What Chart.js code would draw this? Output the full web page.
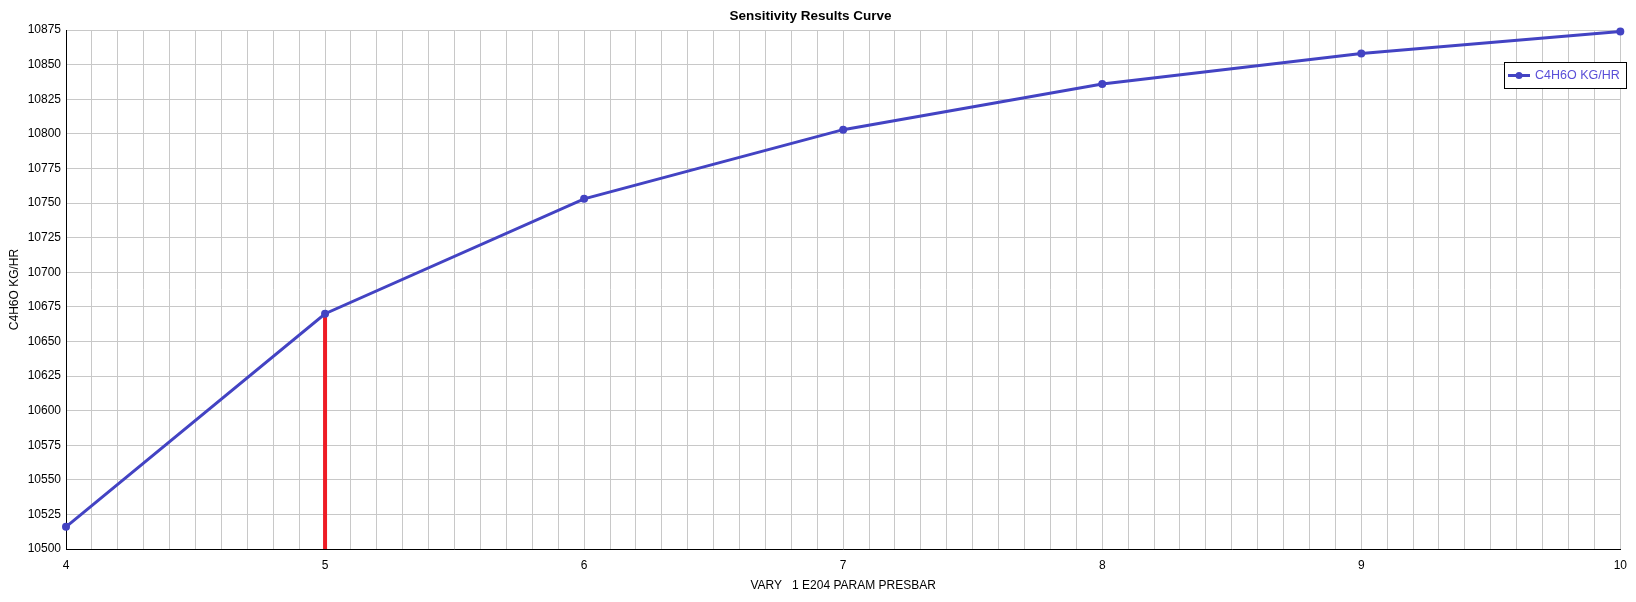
<!DOCTYPE html>
<html>
<head>
<meta charset="utf-8">
<script src="https://cdn.jsdelivr.net/npm/chart.js@4"></script>
<style>
  body { margin: 0; background: #fff; }
  #wrap { width: 1636px; height: 602px; }
</style>
</head>
<body>
<div id="wrap"><canvas id="curve" width="1636" height="602"></canvas></div>
<script>
const presbar = [4, 5, 6, 7, 8, 9, 10];
const c4h6o = [10516, 10670, 10753, 10803, 10836, 10858, 10874];
const markerX = [5, 5];
const markerY = [10500, 10670];
const seriesLabel = "C4H6O KG/HR";

const BLUE = "#4343c3";
const FONT = "'Liberation Sans', Arial, sans-serif";

// legend box drawn inside the plot, top right
const boxLegend = {
  id: "boxLegend",
  afterDraw(chart) {
    const c = chart.ctx;
    const x = 1504, y = 62, w = 122, h = 26;
    c.save();
    c.fillStyle = "#fff";
    c.fillRect(x, y, w, h);
    c.strokeStyle = "#000";
    c.lineWidth = 1;
    c.strokeRect(x + 0.5, y + 0.5, w, h);
    c.strokeStyle = BLUE;
    c.lineWidth = 3;
    c.beginPath();
    c.moveTo(x + 4, y + 13.5);
    c.lineTo(x + 26, y + 13.5);
    c.stroke();
    c.fillStyle = BLUE;
    c.beginPath();
    c.arc(x + 15, y + 13.5, 3.5, 0, Math.PI * 2);
    c.fill();
    c.font = "12.5px " + FONT;
    c.fillStyle = "#5a4fd8";
    c.textBaseline = "middle";
    c.fillText(seriesLabel, x + 31, y + 14);
    c.restore();
  },
};

new Chart(document.getElementById("curve").getContext("2d"), {
  type: "line",
  data: {
    datasets: [
      {
        label: seriesLabel,
        data: presbar.map((x, i) => ({ x, y: c4h6o[i] })),
        borderColor: BLUE,
        backgroundColor: BLUE,
        borderWidth: 3,
        pointRadius: 2.5,
        pointHoverRadius: 2.5,
        tension: 0,
        clip: false,
      },
      {
        label: "marker",
        data: markerX.map((x, i) => ({ x, y: markerY[i] })),
        borderColor: "#ee1c25",
        borderWidth: 4,
        pointRadius: 0,
        tension: 0,
        clip: false,
      },
    ],
  },
  options: {
    responsive: false,
    animation: false,
    layout: { padding: { right: 15 } },
    plugins: {
      legend: { display: false },
      tooltip: { enabled: false },
      title: {
        display: true,
        text: "Sensitivity Results Curve",
        color: "#000",
        font: { family: FONT, size: 13.5, weight: "bold" },
        padding: { top: 8.5, bottom: 5.3 },
      },
    },
    scales: {
      x: {
        type: "linear",
        min: 4,
        max: 10,
        afterFit: (s) => { s.height = 53; },
        border: { color: "#000", width: 1 },
        grid: { color: "#c8c8c8", drawTicks: false },
        ticks: {
          stepSize: 0.1,
          maxTicksLimit: 100,
          autoSkip: false,
          maxRotation: 0,
          padding: 9,
          color: "#000",
          font: { family: FONT, size: 12 },
          callback: (v) => (Math.abs(v - Math.round(v)) < 1e-6 ? String(Math.round(v)) : ""),
        },
        title: {
          display: true,
          text: "VARY   1 E204 PARAM PRESBAR",
          color: "#000",
          font: { family: FONT, size: 12 },
          padding: { top: 0, bottom: 9 },
        },
      },
      y: {
        min: 10500,
        max: 10875,
        afterFit: (s) => { s.width = 66; },
        border: { color: "#000", width: 1 },
        grid: { color: "#c8c8c8", drawTicks: false },
        ticks: {
          stepSize: 25,
          maxTicksLimit: 30,
          padding: 5,
          color: "#000",
          font: { family: FONT, size: 12 },
          callback: (v) => String(v),
        },
        title: {
          display: true,
          text: seriesLabel,
          color: "#000",
          font: { family: FONT, size: 12 },
          padding: { top: 7.5, bottom: 0 },
        },
      },
    },
  },
  plugins: [boxLegend],
});
</script>
</body>
</html>
